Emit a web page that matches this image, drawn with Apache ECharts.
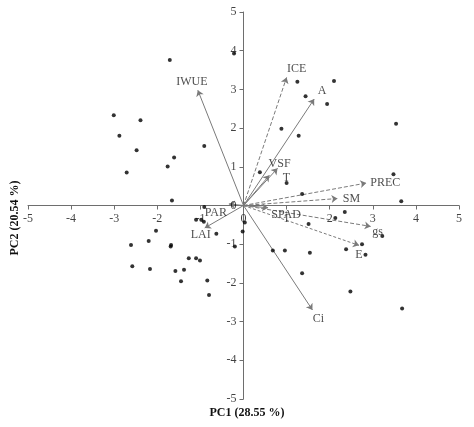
<!DOCTYPE html>
<html><head><meta charset="utf-8">
<script src="https://cdn.jsdelivr.net/npm/echarts@6/dist/echarts.min.js"></script>
<style>html,body{margin:0;padding:0;background:#fff}#c{width:474px;height:427px}</style>
</head><body><div id="c"></div>
<script>
// PCA biplot data
const xTicks = [-5,-4,-3,-2,-1,0,1,2,3,4,5];
const yTicks = [-5,-4,-3,-2,-1,0,1,2,3,4,5];
const xTitle = 'PC1 (28.55 %)';
const yTitle = 'PC2 (20.54 %)';

// sample scores (PC1, PC2)
const scores = [
  [-1.71,3.76],[-0.22,3.93],[-3.01,2.33],[-2.39,2.20],[-2.88,1.80],[-2.48,1.43],[-0.91,1.54],
  [-1.61,1.24],[-1.76,1.01],[-2.71,0.85],[-1.66,0.13],[-0.91,-0.04],
  [1.25,3.20],[2.10,3.22],[1.44,2.82],[1.94,2.62],[3.54,2.11],[0.88,1.98],[1.28,1.80],
  [0.38,0.86],[1.00,0.58],[3.48,0.81],[1.36,0.30],[3.66,0.11],[2.35,-0.17],
  [-1.10,-0.37],[-0.98,-0.37],[-0.92,-0.42],[-2.03,-0.65],[-0.63,-0.73],[-2.61,-1.02],
  [-2.20,-0.92],[-1.69,-1.06],[-1.68,-1.02],[-0.20,-1.06],[-1.27,-1.36],[-1.10,-1.36],
  [-1.01,-1.42],[-2.58,-1.57],[-2.17,-1.64],[-1.58,-1.69],[-1.38,-1.66],[-1.45,-1.96],
  [-0.84,-1.94],[-0.80,-2.31],
  [0.03,-0.44],[-0.02,-0.67],[1.51,-0.48],[2.13,-0.32],[0.68,-1.16],[0.96,-1.16],
  [1.54,-1.22],[2.38,-1.13],[2.75,-1.00],[2.83,-1.27],[3.22,-0.79],[1.36,-1.75],
  [2.48,-2.22],[3.68,-2.66]
];

// variable loadings (arrow tips)
const varNames = ['IWUE','ICE','A','VSF','T','PREC','SM','SPAD','gs','E','Ci','PAR','LAI'];
const varX     = [-1.06, 1.00, 1.64, 0.79, 0.60, 2.85, 2.18, 0.57, 2.95, 2.68, 1.60, -0.34, -0.90];
const varY     = [ 2.98, 3.31, 2.75, 0.96, 0.78, 0.58, 0.18, -0.06, -0.54, -1.03, -2.70, 0.04, -0.58];

// styles (not data)
const dashedVars = {ICE:'dashed', PREC:'dashed', SM:'dashed', gs:'dashed', E:[3,2]};
const labelOffset = {
  IWUE:[-6,-8], ICE:[10,-9], A:[8,-8], VSF:[2,-5], T:[17,3], PREC:[19,0], SM:[14,0],
  SPAD:[18,7], gs:[7,5], E:[0,9], Ci:[6,9], PAR:[-13,9], LAI:[-4,7]
};

const FONT = '"Liberation Serif", "Times New Roman", serif';
const AXC = '#6e6e6e';

const lineData = varNames.map((n,i)=>({
  coords:[[0,0],[varX[i],varY[i]]],
  lineStyle:{type: dashedVars[n] || 'solid'}
}));
const labelData = varNames.map((n,i)=>({
  name:n, value:[varX[i],varY[i]],
  label:{offset: labelOffset[n]}
}));
const xTickLabelData = xTicks.map(t=>({name:String(t), value:[t,0]}));
const yTickLabelData = yTicks.map(t=>({name:String(t), value:[0,t]}));

function axisBase(ticks){
  return {
    type:'value', min:ticks[0], max:ticks[ticks.length-1], interval:1,
    splitLine:{show:false},
    axisLine:{show:true, onZero:true, lineStyle:{color:AXC, width:1}},
    axisTick:{show:true, length:4, lineStyle:{color:AXC}},
    axisLabel:{show:false}
  };
}

const tickLabelStyle = {color:'#111', fontSize:12, fontFamily:FONT};

const chart = echarts.init(document.getElementById('c'), null, {renderer:'canvas'});
chart.setOption({
  animation:false,
  grid:{left:28, right:15, top:12, bottom:28},
  xAxis: axisBase(xTicks),
  yAxis: axisBase(yTicks),
  series:[
    {
      type:'lines', coordinateSystem:'cartesian2d',
      symbol:['none','arrow'], symbolSize:6,
      lineStyle:{color:'#7a7a7a', width:1, opacity:1},
      data:lineData, silent:true
    },
    {
      type:'scatter', symbol:'circle', symbolSize:4,
      itemStyle:{color:'#000'}, data:scores, silent:true
    },
    {
      type:'scatter', symbolSize:0,
      label:Object.assign({show:true, position:'inside', formatter:'{b}'}, tickLabelStyle, {color:'#222'}),
      data:labelData, silent:true
    },
    {
      type:'scatter', symbolSize:0, silent:true,
      label:Object.assign({show:true, position:'inside', offset:[0,13], formatter:'{b}'}, tickLabelStyle),
      data:xTickLabelData
    },
    {
      type:'scatter', symbolSize:0, silent:true,
      label:Object.assign({show:true, position:'left', distance:7, formatter:'{b}'}, tickLabelStyle),
      data:yTickLabelData
    }
  ],
  graphic:[
    {type:'text', x:247, y:413, style:{text:xTitle, font:'bold 12px '+FONT, fill:'#111', align:'center', verticalAlign:'middle'}},
    {type:'text', x:15, y:218, rotation:Math.PI/2, style:{text:yTitle, font:'bold 12px '+FONT, fill:'#111', align:'center', verticalAlign:'middle'}}
  ]
});
</script></body></html>
